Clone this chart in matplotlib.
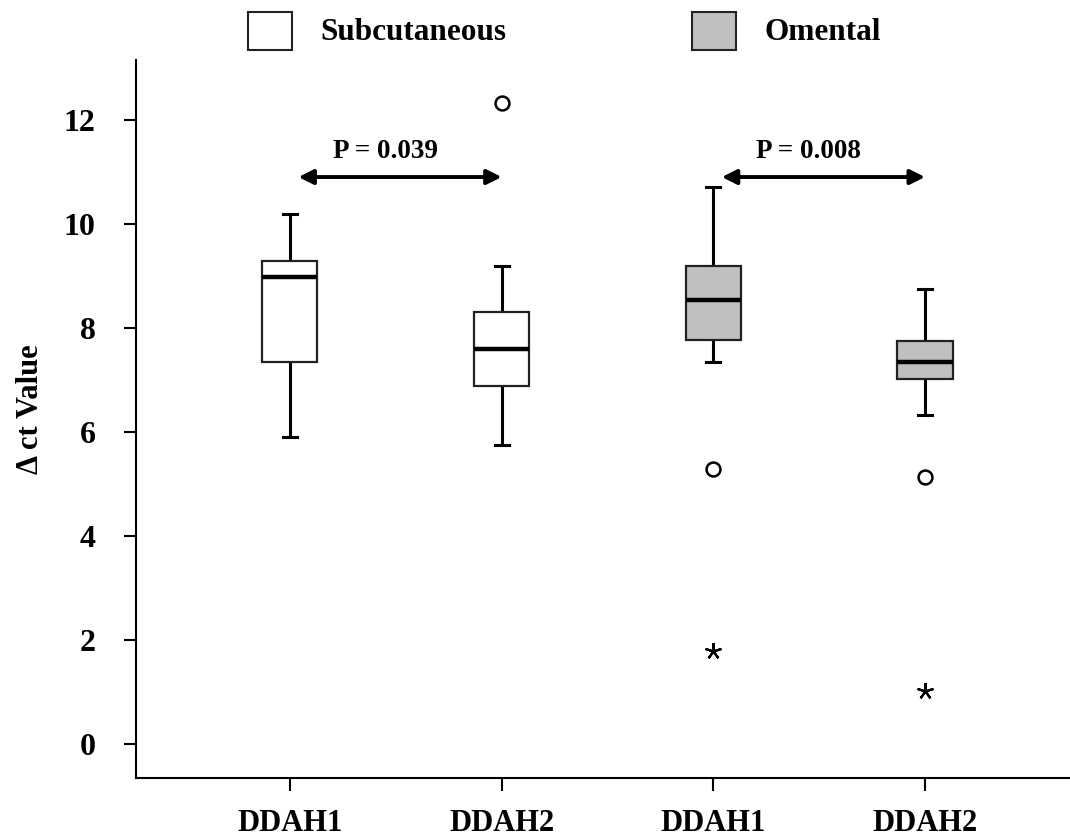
import matplotlib
matplotlib.use('Agg')
import matplotlib.pyplot as plt
from matplotlib.patches import Rectangle

plt.rcParams['font.family'] = ['Liberation Serif', 'DejaVu Serif']
plt.rcParams['font.weight'] = 'bold'

# box statistics
labels = ['DDAH1', 'DDAH2', 'DDAH1', 'DDAH2']
tissue = ['Subcutaneous', 'Subcutaneous', 'Omental', 'Omental']
whis_lo = [5.91, 5.74, 7.35, 6.33]
q1 = [7.34, 6.88, 7.77, 7.01]
med = [8.97, 7.59, 8.53, 7.34]
q3 = [9.28, 8.31, 9.18, 7.74]
whis_hi = [10.18, 9.18, 10.70, 8.74]
outliers = [[], [12.33], [5.29], [5.14]]
extremes = [[], [], [1.78], [1.02]]

colors = {'Subcutaneous': 'white', 'Omental': '#c0c0c0'}

# p-value brackets: (from, to, y, text)
p_from = [1, 3]
p_to = [2, 4]
p_y = [10.9, 10.9]
p_text = ['P = 0.039', 'P = 0.008']

fig = plt.figure(figsize=(10.7, 8.39), dpi=100)
ax = fig.add_axes([136 / 1070, 1 - 778 / 839, 1 - 136 / 1070, (778 - 60) / 839])

positions = [1, 2, 3, 4]
stats = []
for i in range(4):
    stats.append({'med': med[i], 'q1': q1[i], 'q3': q3[i],
                  'whislo': whis_lo[i], 'whishi': whis_hi[i], 'fliers': []})

bp = ax.bxp(stats, positions=positions, widths=0.26, patch_artist=True,
            showfliers=False, capwidths=0.065,
            boxprops=dict(linewidth=1.6, edgecolor='#222222'),
            medianprops=dict(color='black', linewidth=3.2),
            whiskerprops=dict(color='black', linewidth=2.2),
            capprops=dict(color='black', linewidth=2.2))
for patch, t in zip(bp['boxes'], tissue):
    patch.set_facecolor(colors[t])
    patch.set_zorder(3)
for m in bp['medians']:
    m.set_zorder(4)

for pos, vals in zip(positions, outliers):
    ax.plot([pos] * len(vals), vals, linestyle='none', marker='o', markersize=10,
            markerfacecolor='none', markeredgecolor='black', markeredgewidth=1.8)
for pos, vals in zip(positions, extremes):
    ax.plot([pos] * len(vals), vals, linestyle='none', marker=(5, 2, 0), markersize=12,
            color='black', markeredgewidth=1.6)

for a, b, y, t in zip(p_from, p_to, p_y, p_text):
    ax.annotate('', xy=(b, y), xytext=(a + 0.04, y),
                arrowprops=dict(arrowstyle='<|-|>', color='black', lw=2.8,
                                mutation_scale=22, shrinkA=0, shrinkB=0))
    ax.text((a + b) / 2 - 0.05, y + 0.25, t, ha='center', va='bottom', fontsize=19.5,
            fontweight='bold')

ax.set_xlim(0.2726, 4.685)
ax.set_ylim(-0.654, 13.15)
ax.set_xticks(positions)
ax.set_xticklabels(labels, fontsize=22, fontweight='bold')
ax.set_yticks([0, 2, 4, 6, 8, 10, 12])
ax.set_yticklabels(['0', '2', '4', '6', '8', '10', '12'], fontsize=23, fontweight='bold')
ax.tick_params(axis='y', length=9, width=1.5, pad=20)
ax.tick_params(axis='x', length=9, width=1.5, pad=13)
ax.spines['top'].set_visible(False)
ax.spines['right'].set_visible(False)
ax.spines['left'].set_linewidth(1.5)
ax.spines['bottom'].set_linewidth(1.5)
ax.set_ylabel('Δ ct Value', fontsize=22, fontweight='bold')
ax.yaxis.set_label_coords(-0.097, 0.513)

# legend drawn on top of the figure
for x0, t, name in [(248, 320, 'Subcutaneous'), (692, 764, 'Omental')]:
    fig.add_artist(Rectangle((x0 / 1070, 1 - 50 / 839), 44 / 1070, 38 / 839,
                             transform=fig.transFigure, facecolor=colors[name],
                             edgecolor='#222222', linewidth=1.5))
    fig.text(t / 1070, 1 - 33 / 839, name, ha='left', va='center', fontsize=22.5,
             fontweight='bold')

fig.savefig('out.png', dpi=100)
